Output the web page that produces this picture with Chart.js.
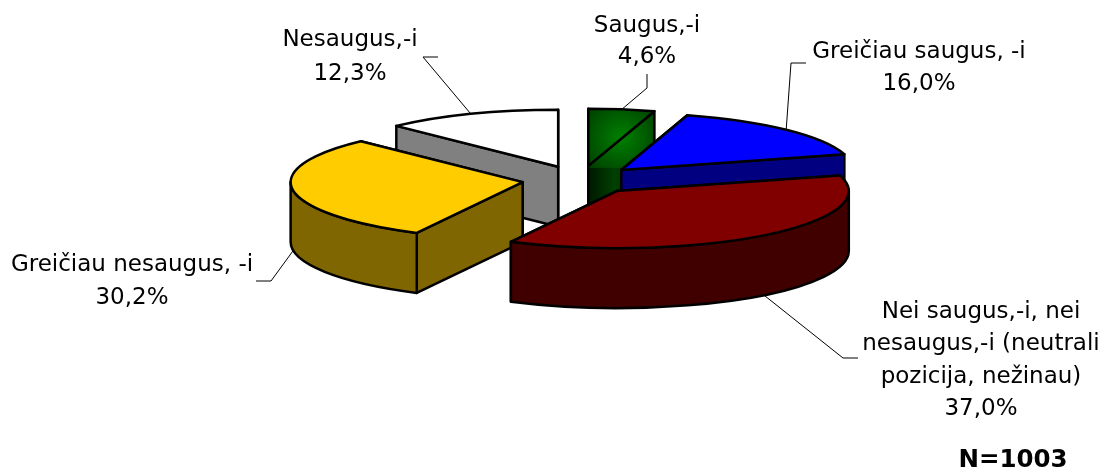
<!DOCTYPE html>
<html>
<head>
<meta charset="utf-8">
<script src="https://cdn.jsdelivr.net/npm/chart.js@4"></script>
<style>
html, body { margin: 0; padding: 0; background: #fff; }
#wrap { width: 1104px; height: 472px; }
</style>
</head>
<body>
<div id="wrap"><canvas id="pie" width="1104" height="472"></canvas></div>
<script>
const categories = [
    ["Saugus,-i"],
    ["Greičiau saugus, -i"],
    ["Nei saugus,-i, nei", "nesaugus,-i (neutrali", "pozicija, nežinau)"],
    ["Greičiau nesaugus, -i"],
    ["Nesaugus,-i"]
];
const shares = [4.6, 16.0, 37.0, 30.2, 12.3];
const sampleNote = "N=1003";

const topColors = ["#008000", "#0000FF", "#800000", "#FFCC00", "#FFFFFF"];
const sideColors = ["#002800", "#000080", "#400000", "#806600", "#808080"];

// where each label sits and where its leader line bends
const labelBoxes = [
    { x: 647, y: 26, lineGap: 31, elbow: [[647, 74], [647, 88]] },
    { x: 919, y: 52, lineGap: 32, elbow: [[806, 63], [791, 63]] },
    { x: 981, y: 312, lineGap: 32.5, elbow: [[858, 358], [843, 358]] },
    { x: 132, y: 265, lineGap: 33, elbow: [[256, 281], [271, 281]] },
    { x: 350, y: 40, lineGap: 34, elbow: [[438, 57], [423, 57]] }
];

const squash = 0.246;  // tilt of the pie
const depth = 60;      // height of the slices
const FONT = "'DejaVu Sans', sans-serif";

// ------------------- SLICE GEOMETRY -------------------
function sliceShape(arc) {
    const p = arc.getProps(["x", "y", "startAngle", "endAngle", "outerRadius"], true);
    const mid = (p.startAngle + p.endAngle) / 2;
    const off = arc.options.offset;
    return {
        cx: p.x + Math.cos(mid) * off,
        cy: p.y + Math.sin(mid) * off * squash,
        rx: p.outerRadius,
        ry: p.outerRadius * squash,
        start: p.startAngle,
        end: p.endAngle,
        mid
    };
}

function rimPoint(s, angle) {
    return [s.cx + Math.cos(angle) * s.rx, s.cy + Math.sin(angle) * s.ry];
}

function paint(ctx, fill) {
    ctx.fillStyle = fill;
    ctx.fill();
    ctx.stroke();
}

function cutFace(ctx, s, angle) {
    const [x, y] = rimPoint(s, angle);
    ctx.beginPath();
    ctx.moveTo(s.cx, s.cy);
    ctx.lineTo(x, y);
    ctx.lineTo(x, y + depth);
    ctx.lineTo(s.cx, s.cy + depth);
    ctx.closePath();
}

function greenGlow(ctx, s) {
    const [x1] = rimPoint(s, s.end);
    const g = ctx.createRadialGradient((s.cx + x1) / 2, s.cy - s.ry / 2, 0, (s.cx + x1) / 2, s.cy - s.ry / 2, 48);
    g.addColorStop(0, "#008000");
    g.addColorStop(1, "#003800");
    return g;
}

function drawCuts(ctx, s, i) {
    const ends = [s.start, s.end].sort((a, b) => rimPoint(s, a)[1] - rimPoint(s, b)[1]);
    ends.forEach(angle => {
        cutFace(ctx, s, angle);
        if (i === 0) {
            const [x1] = rimPoint(s, s.end);
            const g = ctx.createLinearGradient(s.cx, 0, x1, 0);
            g.addColorStop(0, "#001800");
            g.addColorStop(0.4, "#004000");
            g.addColorStop(1, "#002000");
            ctx.fillStyle = g;
            ctx.fill();
            ctx.save();
            ctx.clip();
            ctx.fillStyle = greenGlow(ctx, s);
            ctx.fillRect(s.cx - 2, s.cy - s.ry - 2, s.rx, s.ry + 4);
            ctx.restore();
            cutFace(ctx, s, angle);
            ctx.stroke();
        } else {
            paint(ctx, sideColors[i]);
        }
    });
}

// outer wall, only the part that faces the viewer
function drawWall(ctx, s, i) {
    const from = Math.max(s.start, 0);
    const to = Math.min(s.end, Math.PI);
    if (to <= from) return;
    ctx.beginPath();
    ctx.ellipse(s.cx, s.cy, s.rx, s.ry, 0, from, to);
    ctx.ellipse(s.cx, s.cy + depth, s.rx, s.ry, 0, to, from, true);
    ctx.closePath();
    paint(ctx, sideColors[i]);
}

function drawTop(ctx, s, i) {
    ctx.beginPath();
    ctx.moveTo(s.cx, s.cy);
    ctx.ellipse(s.cx, s.cy, s.rx, s.ry, 0, s.start, s.end);
    ctx.closePath();
    paint(ctx, i === 0 ? greenGlow(ctx, s) : topColors[i]);
}

// ------------------- LABELS -------------------
function drawLabel(ctx, s, i) {
    const box = labelBoxes[i];
    const [ax, ay] = rimPoint(s, s.mid);
    const anchorY = Math.sin(s.mid) > 0.1 ? ay + depth : ay;

    ctx.save();
    ctx.strokeStyle = "#000";
    ctx.lineWidth = 1;
    ctx.beginPath();
    ctx.moveTo(box.elbow[0][0], box.elbow[0][1]);
    ctx.lineTo(box.elbow[1][0], box.elbow[1][1]);
    ctx.lineTo(ax, anchorY);
    ctx.stroke();

    const lines = categories[i].concat(shares[i].toFixed(1).replace(".", ",") + "%");
    ctx.fillStyle = "#000";
    ctx.font = "23px " + FONT;
    ctx.textAlign = "center";
    ctx.textBaseline = "middle";
    lines.forEach((t, n) => ctx.fillText(t, box.x, box.y + n * box.lineGap));
    ctx.restore();
}

const tiltedPie = {
    id: "tiltedPie",
    beforeDatasetsDraw(chart) {
        const ctx = chart.ctx;
        const shapes = chart.getDatasetMeta(0).data.map((arc, i) => ({ i, s: sliceShape(arc) }));
        const backToFront = shapes.slice().sort((a, b) => a.s.cy - b.s.cy);
        ctx.save();
        ctx.strokeStyle = "#000";
        ctx.lineWidth = 2.5;
        ctx.lineJoin = "round";
        backToFront.forEach(({ i, s }) => {
            drawCuts(ctx, s, i);
            drawWall(ctx, s, i);
            drawTop(ctx, s, i);
        });
        ctx.restore();
        return false;
    },
    afterDraw(chart) {
        const ctx = chart.ctx;
        chart.getDatasetMeta(0).data.forEach((arc, i) => drawLabel(ctx, sliceShape(arc), i));
        ctx.save();
        ctx.fillStyle = "#000";
        ctx.font = "bold 24.5px " + FONT;
        ctx.textAlign = "center";
        ctx.textBaseline = "middle";
        ctx.fillText(sampleNote, 1013, 461);
        ctx.restore();
    }
};

new Chart(document.getElementById("pie"), {
    type: "pie",
    data: {
        labels: categories.map(c => c.join(" ")),
        datasets: [{
            data: shares,
            backgroundColor: topColors,
            borderColor: "#000",
            borderWidth: 2,
            offset: 58
        }]
    },
    options: {
        responsive: false,
        animation: false,
        radius: 232,
        layout: { padding: { left: 56, bottom: 112 } },
        plugins: { legend: { display: false }, tooltip: { enabled: false } }
    },
    plugins: [tiltedPie]
});
</script>
</body>
</html>
